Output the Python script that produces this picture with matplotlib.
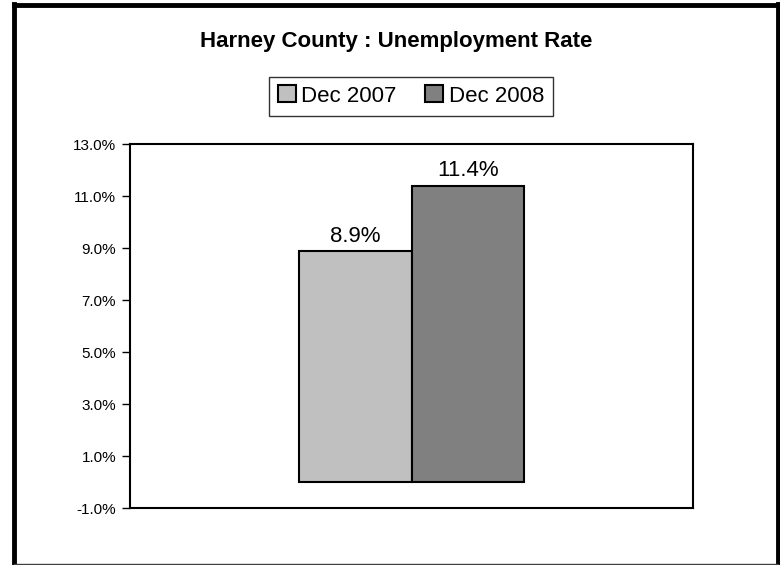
import numpy as np
import matplotlib.pyplot as plt
from matplotlib.lines import Line2D
from matplotlib.ticker import FuncFormatter

plt.rcParams['font.family'] = ['Liberation Sans', 'DejaVu Sans']

# data
series = ["Dec 2007", "Dec 2008"]
values = [8.9, 11.4]
colors = ["#c0c0c0", "#808080"]
y_ticks = [-1, 1, 3, 5, 7, 9, 11, 13]

fig = plt.figure(figsize=(7.8, 5.65), dpi=100)
W, H = 780, 565
ax = fig.add_axes([130 / W, 1 - 508 / H, 563 / W, 364 / H])

width = 0.2
offsets = [-width / 2, width / 2]
for name, v, c, off in zip(series, values, colors, offsets):
    ax.bar(off, v, width=width, color=c, edgecolor="black", linewidth=1.5, label=name)
    ax.text(off, v + 0.35, f"{v:.1f}%", ha="center", va="baseline", fontsize=16)

ax.set_xlim(-0.5, 0.5)
ax.set_ylim(-1, 13)
ax.set_yticks(y_ticks)
ax.yaxis.set_major_formatter(FuncFormatter(lambda v, p: f"{v:.1f}%"))
ax.tick_params(axis="y", direction="out", length=6, width=1, labelsize=11, pad=4)
ax.set_xticks([])
for s in ax.spines.values():
    s.set_linewidth(1.5)

fig.text(396 / W, 1 - 42 / H, "Harney County : Unemployment Rate",
         ha="center", va="center", fontsize=16, fontweight="bold")

leg = fig.legend(loc="center", bbox_to_anchor=(411 / W, 1 - 96 / H), ncol=2,
                 fontsize=16, frameon=True, fancybox=False, edgecolor="black",
                 handlelength=0.8, handleheight=0.8, handletextpad=0.25,
                 columnspacing=1.3, borderpad=0.4)
leg.get_frame().set_linewidth(1)

# outer chart border
fig.add_artist(Line2D([13.5 / W, 13.5 / W], [0, 1 - 4 / H], color="black", linewidth=3.5))
fig.add_artist(Line2D([13.5 / W, 778 / W], [1 - 4.5 / H, 1 - 4.5 / H], color="black", linewidth=3.5))
fig.add_artist(Line2D([777.5 / W, 777.5 / W], [0, 1 - 4 / H], color="black", linewidth=3.5))
fig.add_artist(Line2D([13.5 / W, 778 / W], [0.8 / H, 0.8 / H], color="#404040", linewidth=1))

fig.savefig("out.png", dpi=100)
